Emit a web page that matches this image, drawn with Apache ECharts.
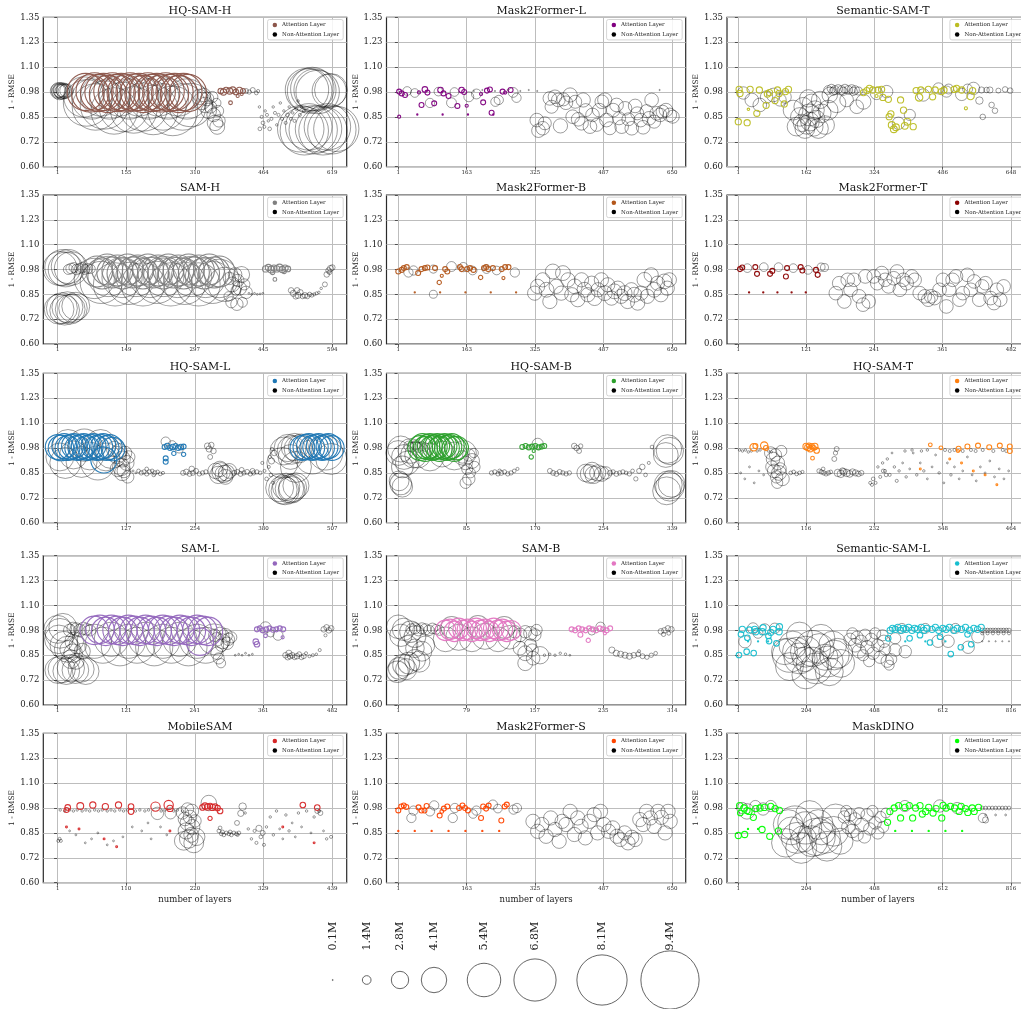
<!DOCTYPE html>
<html>
<head>
<meta charset="utf-8">
<script src="https://cdn.jsdelivr.net/npm/echarts@6/dist/echarts.min.js"></script>
<style>
html,body{margin:0;padding:0;background:#fff;}
#chart{width:1021px;height:1009px;}
</style>
</head>
<body>
<div id="chart"></div>
<script>
// Each point: [layer index, 1 - RMSE, parameters in millions]
const yTickValues = [0.6, 0.725, 0.85, 0.975, 1.1, 1.225, 1.35];
const yTickLabels = ['0.60', '0.72', '0.85', '0.98', '1.10', '1.23', '1.35'];

// ---------- HQ-SAM-H ----------
const hqSamHTicks = [1, 155, 310, 464, 619];
const hqSamHAtt = [[64,.975,6],[74,.968,6],[84,.978,6],[94,.97,6],[104,.975,6],[114,.965,6],[124,.978,6],[134,.97,6],[144,.975,6],[154,.968,6],[164,.978,6],[174,.972,6],[184,.975,6],[194,.965,6],[204,.978,6],[214,.97,6],[224,.975,6],[234,.968,6],[244,.978,6],[254,.97,6],[264,.975,6],[274,.965,6],[284,.975,6],[294,.97,6],
 [368,.98,0.9],[374,.975,1],[380,.985,0.9],[388,.98,1],[395,.985,1],[402,.975,0.9],[410,.983,1],[418,.98,0.8],[390,.921,0.6],[406,.955,0.5],[415,.965,0.5]];
const hqSamHNon = [[1,.98,2.4],[3,.985,2.4],[5,.975,2.5],[7,.985,2.4],[9,.98,2.5],[11,.975,2.4],[13,.985,2.3],[15,.98,2.4],[18,.978,2.3],[21,.982,2.2],
 [60,.95,6.5],[66,.92,7.5],[78,.94,6.5],[86,.9,7.5],[98,.955,6.5],[106,.91,7.8],[118,.94,6.5],[128,.88,7.5],[140,.955,6.5],[150,.9,8],[162,.94,6.5],[172,.885,7.5],[184,.955,6.5],[194,.9,7.8],[206,.94,6.5],[216,.885,8],[228,.955,6.5],[238,.9,7.5],[250,.94,6.5],[260,.88,8],[272,.955,6.5],[282,.9,7.5],[292,.94,6.5],[300,.91,7],
 [320,.95,2.5],[325,.93,2.8],[330,.96,2.2],[333,.91,2.5],[337,.94,2.2],[341,.88,2.5],[345,.9,2],[349,.95,1.8],[352,.86,2.2],[355,.82,2.5],[360,.8,2.4],[364,.83,2],[358,.92,1.5],[362,.88,1.8],
 [425,.98,0.8],[432,.975,0.7],[440,.985,0.8],[448,.97,0.6],[452,.98,0.5],
 [455,.9,0.4],[460,.85,0.5],[463,.82,0.6],[466,.8,0.5],[468,.88,0.4],[472,.86,0.5],[475,.83,0.4],[478,.79,0.6],[482,.84,0.5],[486,.9,0.4],[490,.87,0.5],[494,.81,0.4],[498,.86,0.5],[502,.92,0.4],[506,.84,0.5],[510,.88,0.4],[514,.82,0.5],[518,.86,0.6],[522,.9,0.4],[526,.84,0.5],[530,.87,0.4],[534,.83,0.5],[538,.89,0.5],[542,.93,0.4],[546,.86,0.5],[550,.9,0.4],[555,.88,0.5],[456,.79,0.6],
 [562,.985,7],[568,.98,7.2],[574,.99,7],[580,.985,6.8],[586,.975,7],[612,.98,5.5],[616,.985,5.3],
 [548,.79,7.5],[556,.78,7.8],[566,.8,7.5],[576,.785,7.8],[588,.79,7.5],[598,.78,7.8],[608,.8,7.5],[618,.785,7.8],[628,.79,7.3]];

// ---------- Mask2Former-L ----------
const m2fLTicks = [1, 163, 325, 487, 650];
const m2fLAtt = [[3,.851,0.5],[3,.977,0.8],[9,.968,0.8],[17,.96,0.8],[50,.973,0.5],[56,.91,0.8],[64,.988,0.9],[70,.972,0.8],[86,.918,0.8],[101,.985,0.9],[108,.968,0.8],[120,.955,0.8],[141,.905,0.8],[151,.985,0.9],[157,.975,0.8],[163,.906,0.5],[197,.965,0.5],[202,.923,0.8],[211,.982,0.8],[218,.988,0.8],[222,.871,0.8],[248,.977,0.8],[254,.972,0.5],[267,.985,0.8],
 [46,.862,0.2],[106,.862,0.2],[166,.862,0.2],[226,.862,0.2]];
const m2fLNon = [[22,.98,1.4],[40,.97,1.4],[76,.92,1.5],[96,.977,1.4],[127,.921,1.6],[134,.975,1.4],[168,.951,1.6],[186,.965,1.6],[231,.926,1.5],[239,.935,1.5],[273,.973,1.6],[281,.946,1.5],
 [180,.98,0.2],[200,.985,0.2],[230,.98,0.2],[260,.985,0.2],[290,.98,0.2],[310,.985,0.2],[330,.98,0.2],[620,.985,0.2],
 [329,.834,2.2],[333,.781,2.2],[343,.793,2.2],[348,.818,2.1],[360,.943,2.2],[364,.901,2.1],[372,.951,2.2],[380,.935,2.2],[385,.805,2.3],[392,.938,2.1],[398,.921,2.2],[408,.96,2.3],[414,.851,2.2],[420,.926,2.1],[427,.838,2.2],[435,.818,2.2],[439,.935,2.3],[445,.884,2.1],[455,.801,2.2],[461,.86,2.2],[471,.81,2.1],[477,.884,2.2],[483,.926,2.2],[490,.935,2.3],[494,.834,2.2],[502,.793,2.1],[510,.884,2.2],[518,.91,2.2],[524,.843,2.1],[530,.801,2.2],[538,.893,2.2],[546,.838,2.1],[554,.793,2.2],[562,.905,2.2],[567,.868,2.1],[575,.834,2.2],[581,.798,2.2],[589,.879,2.1],[595,.843,2.2],[601,.935,2.2],[607,.826,2.1],[613,.868,2.2],[621,.86,2.2],[627,.876,2.1],[635,.884,2.2],[644,.86,2.2],[651,.851,2.1]];

// ---------- Semantic-SAM-T ----------
const semSamTTicks = [1, 162, 324, 486, 648];
const semSamTAtt = [[3,.988,1],[5,.968,1],[1,.826,1],[22,.821,1],[25,.888,0.4],[29,.988,1],[45,.868,1],[51,.985,1],[67,.908,1],[70,.965,1],[75,.972,1],[88,.932,1],[94,.985,1],[98,.968,1],[110,.915,1],[113,.977,1],[120,.988,1],
 [298,.972,1],[306,.982,1],[312,.993,1],[320,.985,1],[329,.955,0.5],[333,.985,1],[341,.988,1],[344,.948,1],[357,.938,1],[359,.851,1],[363,.865,1],[365,.809,1.1],[370,.788,1.1],[375,.798,1.1],[386,.935,1],[393,.884,1],[396,.805,1.1],[402,.826,1.1],[416,.801,1],[423,.982,1],[430,.948,1.2],[434,.985,1],[452,.988,1],[462,.951,1],[468,.985,1],[483,.977,1],[489,.985,1],[513,.988,1],[519,.993,1],[531,.985,1],[541,.893,0.5],[552,.955,1.2],[557,.982,1]];
const semSamTNon = [[13,.97,2],[33,.935,2.2],[52,.91,2.2],[68,.95,2],[84,.96,2.2],[100,.935,2],[112,.95,2],
 [147,.85,3],[159,.792,3.2],[171,.826,3],[183,.884,3],[191,.792,3.2],[199,.868,3],[155,.901,3],[175,.918,3],[207,.809,3],[167,.943,2.8],[139,.801,3],[131,.884,3.2],[195,.935,2.8],[214,.884,3.2],[234,.918,3],[218,.96,2.5],[152,.82,2.8],[163,.81,3],[180,.8,3],[186,.84,2.8],[170,.86,3.5],
 [214,.985,1.4],[222,.992,1.4],[230,.985,1.4],[238,.99,1.4],[246,.985,1.4],[254,.992,1.4],[262,.985,1.4],[270,.99,1.4],[278,.985,1.4],[286,.98,1.3],[226,.978,1.3],[250,.978,1.3],[274,.978,1.3],
 [258,.935,2.2],[282,.901,2.2],[298,.926,2.4],[329,.968,2],[353,.977,2],[408,.86,1.8],[381,.818,2],
 [440,.96,2],[476,.993,1.8],[495,.977,1.8],[531,.963,2],[559,.993,2],[573,.932,1.2],[581,.85,0.9],[602,.91,0.9],[610,.881,0.9],[578,.985,1],[590,.985,0.9],[598,.985,1],[618,.982,0.8],[634,.988,0.9],[646,.982,0.9],[500,.99,1.6],[545,.99,1.6]];

// ---------- SAM-H ----------
const samHTicks = [1, 149, 297, 445, 594];
const samHAtt = [[86,.965,5],[97,.955,5],[108,.975,5],[119,.96,5],[130,.97,5],[141,.955,5],[152,.975,5],[163,.96,5],[174,.97,5],[185,.955,5],[196,.975,5],[207,.96,5],[218,.97,5],[229,.955,5],[240,.975,5],[251,.96,5],[262,.97,5],[273,.955,5],[284,.975,5],[295,.96,5],[306,.97,5],[317,.955,5],[328,.975,5],[339,.96,5],[350,.965,5],
 [450,.978,1],[456,.985,1],[462,.975,1.1],[468,.982,1],[474,.978,1],[480,.985,1.1],[486,.975,1],[492,.982,1],[498,.978,0.9],[465,.96,0.7],[470,.925,0.6],[490,.965,0.7]];
const samHNon = [[6,.98,5.5],[12,.985,5.8],[18,.975,5.6],[24,.99,5.5],[30,.98,5.4],
 [4,.775,4.8],[10,.78,5],[16,.77,4.8],[22,.785,5],[28,.775,4.8],[34,.78,4.6],[40,.79,4.5],
 [24,.975,1.6],[30,.98,1.7],[36,.985,1.6],[42,.975,1.7],[48,.98,1.6],[54,.985,1.7],[60,.975,1.6],[66,.98,1.6],[72,.978,1.5],
 [80,.93,6.5],[95,.91,6.8],[110,.94,6.5],[125,.9,7],[140,.935,6.5],[155,.905,6.8],[170,.94,6.5],[185,.9,7],[200,.935,6.5],[215,.91,6.8],[230,.94,6.5],[245,.9,7],[260,.935,6.5],[275,.905,6.8],[290,.94,6.5],[305,.9,7],[320,.935,6.5],[335,.91,6.8],[350,.93,6.2],[362,.9,5.5],
 [372,.93,2],[378,.9,2.4],[384,.95,2.2],[390,.92,2],[394,.88,2.2],[398,.95,2.6],[404,.9,1.8],[408,.86,2],[386,.87,1.6],
 [376,.81,1.8],[388,.8,2],[400,.81,1.6],[370,.84,1.5],
 [414,.855,0.3],[420,.85,0.3],[426,.855,0.3],[432,.85,0.3],[438,.852,0.3],[444,.855,0.3],
 [505,.87,0.9],[510,.855,1],[515,.84,0.9],[520,.845,1],[525,.86,0.9],[530,.84,0.8],[535,.845,0.9],[540,.84,0.8],[545,.85,0.7],[550,.845,0.6],[555,.85,0.5],[560,.855,0.5],[565,.86,0.4],[570,.88,0.4],[518,.87,0.9],
 [578,.9,0.8],[582,.95,0.9],[586,.97,0.9],[590,.98,1],[594,.985,0.9],[588,.96,0.7]];

// ---------- Mask2Former-B ----------
const m2fBTicks = [1, 163, 325, 487, 650];
const m2fBAtt = [[1,.965,0.8],[9,.973,0.8],[14,.982,0.8],[21,.987,0.8],[48,.957,0.8],[56,.977,0.8],[64,.982,0.8],[70,.985,0.8],[88,.982,0.8],[98,.91,0.7],[104,.943,0.5],[112,.977,0.8],[117,.965,0.8],[147,.987,0.8],[151,.977,0.8],[164,.977,0.8],[171,.982,0.8],[179,.973,0.8],[196,.935,0.7],[204,.982,0.8],[209,.987,0.8],[214,.977,0.8],[225,.982,0.8],[246,.977,0.8],[250,.932,0.5],[254,.987,0.8],[262,.987,0.8],
 [40,.86,0.2],[100,.86,0.2],[160,.86,0.2],[220,.86,0.2],[280,.86,0.2]];
const m2fBNon = [[25,.96,1.5],[37,.97,1.5],[84,.85,1.3],[84,.977,1.3],[127,.99,1.6],[155,.987,1.5],[177,.97,1.4],[210,.977,1.4],[234,.97,1.4],[277,.96,1.5],
 [324,.856,2.3],[331,.89,2.3],[343,.923,2.3],[352,.873,2.4],[360,.814,2.3],[367,.965,2.4],[375,.89,2.3],[387,.856,2.3],[391,.957,2.4],[403,.923,2.3],[412,.848,2.3],[419,.89,2.4],[426,.823,2.3],[435,.923,2.3],[442,.873,2.4],[450,.848,2.3],[459,.906,2.3],[466,.831,2.4],[474,.873,2.3],[482,.923,2.3],[490,.856,2.4],[497,.898,2.3],[506,.831,2.3],[513,.865,2.4],[521,.881,2.3],[529,.84,2.3],[537,.856,2.4],[544,.814,2.3],[553,.873,2.3],[560,.848,2.4],[568,.806,2.3],[576,.856,2.3],[584,.923,2.4],[591,.84,2.3],[600,.948,2.3],[607,.873,2.4],[615,.906,2.3],[623,.848,2.3],[631,.915,2.4],[638,.881,2.3],[643,.923,2.3]];

// ---------- Mask2Former-T ----------
const m2fTTicks = [1, 121, 241, 361, 482];
const m2fTAtt = [[4,.977,0.8],[8,.985,0.8],[31,.987,0.8],[34,.953,0.8],[57,.953,0.8],[61,.968,0.8],[85,.94,0.8],[87,.982,0.8],[111,.987,0.8],[114,.97,0.8],[138,.973,0.8],[141,.948,0.8],
 [20,.86,0.2],[45,.86,0.2],[70,.86,0.2],[95,.86,0.2],[120,.86,0.2]];
const m2fTNon = [[17,.982,1.4],[46,.987,1.4],[72,.987,1.4],[98,.982,1.4],[124,.973,1.4],[147,.987,1.3],[153,.985,1.3],
 [173,.856,2.2],[179,.906,2.2],[188,.814,2.2],[194,.923,2.2],[199,.873,2.2],[205,.923,2.2],[214,.84,2.2],[221,.798,2.2],[225,.94,2.2],[231,.814,2.2],[240,.94,2.2],[246,.906,2.2],[254,.957,2.2],[260,.923,2.2],[266,.89,2.2],[275,.931,2.2],[281,.965,2.2],[286,.873,2.2],[292,.923,2.2],[298,.906,2.2],[307,.94,2.2],[312,.923,2.2],[321,.856,2.2],[330,.84,2.2],[336,.823,2.2],[341,.84,2.2],[347,.831,2.2],[356,.873,2.2],[362,.923,2.2],[368,.789,2.2],[373,.873,2.2],[379,.923,2.2],[385,.94,2.2],[391,.823,2.2],[397,.856,2.2],[405,.948,2.2],[411,.873,2.2],[417,.915,2.2],[426,.823,2.2],[431,.89,2.2],[437,.906,2.2],[446,.831,2.2],[452,.806,2.2],[457,.873,2.2],[463,.823,2.2],[469,.89,2.2]];

// ---------- HQ-SAM-L ----------
const hqSamLTicks = [1, 127, 254, 380, 507];
const hqSamLAtt = [[1,.98,4],[7,.975,4.1],[13,.985,4],[19,.975,4],[25,.98,4.1],[31,.985,4],[37,.975,4],[43,.98,4.1],[49,.985,4],[55,.975,4],[61,.98,4.1],[67,.985,4],[73,.975,4],[79,.98,4.1],[85,.985,4],[91,.975,4],[97,.98,4],[103,.97,3.8],[86,.915,4.2],
 [198,.98,0.8],[203,.985,0.9],[208,.975,0.8],[213,.98,0.9],[218,.985,0.8],[223,.975,0.8],[228,.98,0.9],[233,.982,0.8],[200,.923,0.8],[200,.906,0.8],[215,.948,0.7],[233,.943,0.7],
 [452,.975,4],[458,.98,4.1],[464,.985,4],[470,.975,4],[476,.98,4.1],[482,.985,4],[488,.975,4],[494,.98,4.1],[500,.985,4],[506,.975,4]];
const hqSamLNon = [[5,.93,4.5],[15,.9,5],[30,.94,4.5],[45,.905,5],[60,.935,4.5],[75,.9,5.5],[90,.93,4.5],[100,.95,5],[20,.99,5],[50,.99,5.2],[80,.99,5],
 [105,.97,2.5],[110,.94,2.8],[115,.96,2.4],[120,.92,2.6],[125,.95,2.2],[128,.9,2.4],[132,.93,2],[118,.88,2.8],[123,.86,2.2],[120,.85,2.5],[130,.83,2],[112,.87,2.5],
 [150,.86,0.6],[155,.85,0.7],[160,.855,0.7],[165,.845,0.7],[170,.855,0.7],[175,.86,0.6],[180,.85,0.7],[185,.855,0.6],[190,.845,0.6],[195,.85,0.5],[165,.87,0.6],[178,.84,0.6],[140,.86,0.3],[145,.85,0.3],
 [200,1.007,1.5],[212,.99,1.4],[225,.97,1.3],
 [232,.85,0.8],[238,.855,0.9],[244,.845,0.8],[250,.85,0.8],[256,.86,0.8],[262,.845,0.7],[268,.85,0.7],[274,.855,0.7],[248,.87,0.9],
 [277,.985,1],[280,.97,1],[284,.99,0.9],[288,.96,0.9],[282,.93,0.8],
 [292,.86,2.5],[297,.84,2.8],[302,.855,3],[307,.845,2.8],[312,.85,2.6],[317,.86,2.4],[300,.87,2.5],[310,.83,2.4],
 [326,.85,0.8],[332,.855,0.8],[338,.845,0.8],[344,.85,0.7],[350,.855,0.8],[356,.845,0.7],[362,.85,0.7],[368,.855,0.7],[374,.85,0.6],[340,.865,0.8],[360,.86,0.8],
 [378,.9,0.5],[382,.86,0.5],[386,.82,0.6],[390,.88,0.5],[394,.84,0.6],[398,.8,0.5],[392,.93,0.5],[396,.97,0.5],[395,.91,1],[400,.95,0.9],
 [410,.775,4.5],[416,.765,4.6],[422,.78,4.4],[428,.77,4.6],[434,.775,4.5],[440,.785,4.2],[420,.76,4.5],[432,.765,4.3],
 [418,.96,4.5],[425,.975,4.4],[432,.965,4.6],[438,.98,4.4],[444,.97,4.5],[450,.98,4.2],[430,.93,4],
 [415,.9,5],[440,.88,5],[470,.93,5.5],[495,.95,5.5],[505,.92,5]];

// ---------- HQ-SAM-B ----------
const hqSamBTicks = [1, 85, 170, 254, 339];
const hqSamBAtt = [[28,.975,4],[31,.985,4],[34,.97,4],[37,.98,4],[40,.985,4],[43,.975,4],[46,.98,4],[49,.985,4],[52,.97,4],[55,.98,4],[58,.985,4],[61,.975,4],[64,.98,4],[67,.985,4],[70,.97,4],[73,.975,3.8],
 [154,.98,0.8],[158,.985,0.8],[162,.978,0.8],[166,.982,0.8],[170,.985,0.8],[174,.978,0.8],[178,.982,0.8],[181,.985,0.8],[165,.93,0.7],[168,.96,0.5]];
const hqSamBNon = [[1,.95,4],[4,.97,4.2],[8,.93,4],[12,.9,3.8],[16,.96,4],[20,.94,4.2],[6,.88,3.5],
 [4,.795,3.5],[6,.78,3.3],[2,.81,3.2],
 [14,.985,1.6],[18,.98,1.6],[22,.988,1.5],[26,.978,1.6],[30,.985,1.5],[34,.98,1.4],
 [25,.94,4.2],[40,.93,4.5],[55,.945,4.2],[70,.935,4.5],[82,.95,4],
 [80,.93,2],[84,.9,2.2],[88,.94,2],[92,.91,2.4],[86,.87,1.8],[90,.85,1.6],[95,.88,1.8],[88,.82,2],[84,.8,1.8],[94,.95,1.5],
 [116,.85,0.7],[120,.855,0.7],[124,.845,0.7],[128,.85,0.8],[132,.855,0.7],[136,.845,0.7],[140,.85,0.7],[144,.86,0.6],[148,.87,0.5],[126,.86,0.6],
 [173,.996,1.8],
 [188,.86,0.8],[192,.85,0.8],[196,.845,0.8],[200,.855,0.8],[204,.85,0.7],[208,.845,0.7],[212,.85,0.7],
 [218,.985,0.9],[221,.975,0.9],[224,.96,0.8],[226,.985,0.7],
 [232,.85,2.8],[237,.845,3],[242,.84,2.8],[247,.85,2.6],[252,.845,2.4],[257,.85,2],[240,.86,2.8],
 [262,.85,0.8],[266,.855,0.7],[270,.845,0.8],[274,.85,0.7],[278,.855,0.7],[282,.85,0.6],[286,.845,0.7],[290,.86,0.6],
 [294,.82,0.7],[298,.86,0.8],[302,.88,0.9],[306,.84,0.6],[310,.9,0.5],[314,.98,0.6],
 [333,.97,4.6],[336,.96,4.4],[331,.94,4],[334,.79,4.5],[336,.78,4.6],[332,.76,4.5],[338,.795,4.3]];

// ---------- HQ-SAM-T ----------
const hqSamTTicks = [1, 116, 232, 348, 464];
const hqSamTAtt = [[27,.979,1.2],[45,.987,1.2],[30,.985,0.8],[48,.975,0.8],[116,.983,1],[119,.978,1],[123,.971,1],[127,.924,0.6],[131,.983,1],[134,.963,0.9],[121,.988,0.8],[126,.985,0.8],[129,.975,0.8],
 [327,.991,0.6],[345,.976,0.6],[375,.971,0.8],[390,.983,0.8],[408,.987,0.8],[427,.979,0.8],[445,.987,0.8],[462,.983,0.8],[462,.96,0.8],[374,.96,0.5],
 [310,.87,0.3],[360,.92,0.3],[400,.86,0.3],[420,.84,0.3],[440,.79,0.3],[380,.9,0.3]];
const hqSamTNon = [[3,.965,0.4],[8,.96,0.4],[13,.965,0.4],[18,.955,0.4],[23,.96,0.4],[33,.96,0.4],[38,.965,0.4],[52,.96,0.4],[57,.955,0.4],
 [56,.95,2],[60,.92,2.2],[64,.94,2],[68,.9,2.2],[72,.87,2],[62,.86,2.2],[66,.83,2],[70,.85,2.4],[74,.96,1.8],[58,.88,2],[76,.82,2.2],[67,.8,1.8],
 [90,.85,0.6],[95,.855,0.6],[100,.845,0.6],[105,.85,0.6],[110,.855,0.5],
 [5,.85,0.3],[12,.82,0.3],[20,.88,0.3],[28,.8,0.3],[36,.86,0.3],[44,.84,0.3],
 [138,.86,0.7],[142,.855,0.7],[146,.85,0.7],[150,.845,0.7],[154,.85,0.7],[158,.855,0.6],[145,.87,0.6],
 [170,.85,1.2],[175,.845,1.2],[180,.855,1.1],[185,.85,1.2],[190,.845,1.1],[195,.855,1],[200,.85,1],[205,.845,0.9],[210,.85,0.8],[178,.86,1],
 [164,.92,0.8],[166,.95,0.7],[168,.97,0.8],
 [225,.8,0.5],[228,.79,0.5],[230,.82,0.6],[234,.8,0.5],[238,.88,0.4],[242,.83,0.5],[246,.9,0.4],[250,.86,0.5],[254,.92,0.4],[258,.84,0.5],[262,.95,0.3],[266,.88,0.4],[270,.81,0.5],[274,.86,0.4],[280,.9,0.3],[286,.83,0.4],[292,.87,0.3],[298,.95,0.3],[304,.84,0.4],[310,.9,0.3],[316,.86,0.4],[322,.82,0.3],[330,.88,0.3],[336,.94,0.3],[342,.85,0.4],[350,.8,0.3],[356,.9,0.3],[362,.84,0.4],[368,.88,0.3],[376,.82,0.3],[382,.86,0.3],[390,.93,0.3],[398,.84,0.3],[405,.81,0.3],[412,.88,0.3],[420,.85,0.3],[428,.91,0.3],[436,.83,0.3],[444,.87,0.3],[452,.82,0.3],[460,.86,0.3],[247,.86,0.6],[252,.84,0.6],
 [352,.965,0.5],[360,.96,0.5],[368,.965,0.5],[382,.96,0.5],[396,.965,0.5],[404,.96,0.5],[416,.965,0.5],[434,.96,0.5],[450,.965,0.5],[456,.96,0.5],
 [284,.96,0.4],[296,.965,0.4],[312,.96,0.4],[322,.965,0.4]];

// ---------- SAM-L ----------
const samLTicks = [1, 121, 241, 361, 482];
const samLAtt = [[65,.975,4.6],[75,.98,4.6],[85,.97,4.6],[95,.98,4.6],[105,.975,4.6],[115,.97,4.6],[125,.98,4.6],[135,.975,4.6],[145,.97,4.6],[155,.98,4.6],[165,.975,4.6],[175,.97,4.6],[185,.98,4.6],[195,.975,4.6],[205,.97,4.6],[215,.98,4.6],[225,.975,4.6],[235,.97,4.6],[245,.98,4.6],[255,.975,4.6],[265,.97,4.6],[250,.918,4.4],
 [350,.98,0.8],[355,.985,0.8],[360,.975,0.8],[366,.98,0.8],[372,.985,0.8],[378,.978,0.8],[384,.98,0.8],[390,.985,0.8],[396,.98,0.8],[348,.918,0.9],[350,.905,0.9],[365,.948,0.6],[395,.94,0.5]];
const samLNon = [[1,.98,4.5],[5,.96,4.8],[10,.99,4.5],[3,.93,4.6],[12,.9,4.5],[18,.88,4.2],
 [2,.775,4.3],[8,.78,4.4],[16,.77,4.3],[24,.785,4.4],[32,.775,4.3],[42,.78,4.2],[50,.77,4.3],
 [20,.88,2.8],[28,.86,3],[36,.9,2.8],[44,.87,2.6],[24,.83,3],[33,.82,2.6],
 [22,.975,2],[28,.985,2],[34,.98,2.1],[40,.975,2],[46,.985,2],[52,.98,1.9],[58,.975,1.8],[30,.92,3],
 [65,.92,5.5],[80,.9,5.8],[95,.93,5.5],[110,.89,6],[125,.92,5.5],[140,.9,5.8],[155,.93,5.5],[170,.89,6],[185,.92,5.5],[200,.9,5.8],[215,.93,5.5],[230,.89,6],[245,.92,5.5],[260,.9,5.8],[275,.93,5],
 [276,.95,2],[280,.93,2.2],[285,.96,2],[290,.92,2.4],[295,.95,2.2],[300,.93,2],[305,.94,1.8],[288,.9,2],[298,.91,2],
 [283,.834,1.8],[287,.81,1.5],[280,.86,2],
 [312,.85,0.3],[318,.855,0.3],[324,.85,0.3],[330,.86,0.3],[336,.85,0.3],[342,.855,0.3],
 [365,.99,1.8],[387,.95,1.6],[374,.96,1.2],
 [400,.85,0.9],[404,.84,0.9],[408,.845,0.9],[412,.85,0.9],[416,.84,0.8],[420,.845,0.9],[424,.855,0.8],[428,.84,0.8],[432,.845,0.8],[436,.86,0.5],[442,.845,0.5],[448,.85,0.5],[454,.855,0.4],[460,.876,0.5],[406,.86,1],
 [467,.98,0.9],[472,.99,0.9],[476,.975,0.9],[480,.985,0.9],[470,.95,0.5]];

// ---------- SAM-B ----------
const samBTicks = [1, 79, 157, 235, 314];
const samBAtt = [[55,.975,3.3],[60,.98,3.3],[65,.97,3.3],[70,.985,3.3],[75,.975,3.3],[80,.98,3.3],[85,.97,3.3],[90,.985,3.3],[95,.975,3.3],[100,.98,3.3],[105,.97,3.3],[110,.985,3.3],[115,.975,3.3],[120,.98,3.3],[125,.97,3.3],[130,.975,3.2],
 [199,.98,0.8],[203,.975,0.8],[207,.985,0.8],[211,.98,0.8],[215,.975,0.8],[219,.985,0.8],[223,.98,0.8],[227,.975,0.8],[231,.985,0.8],[235,.98,0.8],[239,.975,0.8],[243,.985,0.8],[209,.953,0.8],[218,.925,0.7],[237,.96,0.5]];
const samBNon = [[1,.993,3.8],[7,.98,3.6],[15,.968,3.5],[20,.943,3.5],[4,.95,3.6],
 [0,.767,3.5],[2,.784,3.5],[7,.8,3.5],[13,.81,3.5],[20,.826,3.4],[25,.818,3.4],[10,.78,3.4],
 [20,.885,3],[28,.87,3.2],[12,.9,3.2],[32,.9,3],
 [16,.98,1.8],[20,.985,1.8],[24,.975,1.8],[28,.985,1.8],[32,.98,1.8],[36,.975,1.7],[40,.985,1.7],[44,.98,1.6],[48,.975,1.6],
 [55,.93,4],[70,.94,4.2],[85,.93,4],[100,.945,4.2],[115,.93,4],[128,.94,3.8],[62,.99,3.5],[92,.995,3.5],[122,.99,3.5],
 [134,.968,2],[140,.952,2.2],[146,.968,2],[152,.96,2.2],[157,.952,2],[159,.977,1.8],[140,.885,2.2],[146,.86,2.4],[152,.901,2],[155,.835,2.2],[146,.81,2.4],[163,.85,2.8],[154,.876,2],
 [168,.85,0.4],[174,.855,0.4],[180,.85,0.4],[186,.86,0.4],[192,.855,0.4],[197,.85,0.3],
 [232,.993,1.5],[222,.97,1.2],
 [245,.876,1],[250,.86,1],[255,.855,1],[260,.85,1],[265,.845,1],[270,.85,0.9],[275,.855,0.8],[280,.845,0.8],[285,.84,0.7],[290,.85,0.7],[295,.86,0.6],[276,.87,0.5],
 [301,.97,0.9],[305,.975,0.9],[309,.985,0.9],[313,.98,0.9],[304,.955,0.7],[310,.96,0.6]];

// ---------- Semantic-SAM-L ----------
const semSamLTicks = [1, 204, 408, 612, 816];
const semSamLAtt = [[3,.851,0.9],[9,.955,0.9],[13,.98,1],[28,.938,0.9],[34,.977,1],[26,.868,0.9],[50,.98,1],[47,.861,0.9],[53,.968,1],[73,.968,1],[75,.988,1],[91,.947,0.9],[93,.921,0.9],[98,.965,1],[105,.98,1],[115,.91,0.9],[123,.968,1],[124,.993,1],
 [449,.935,0.9],[455,.975,1],[462,.985,1],[470,.98,1],[478,.99,1],[486,.975,1],[494,.985,1],[502,.98,1],[510,.99,1],[513,.935,0.9],[520,.975,1],[528,.985,1],[536,.98,1],[544,.951,0.9],[548,.99,1],[556,.975,1],[564,.985,1],[574,.914,0.9],[580,.98,1],[590,.99,1],[600,.975,1],[604,.943,0.9],[612,.985,1],[622,.98,1],[632,.99,1],[636,.856,0.9],[645,.975,1],[655,.985,1],[666,.89,0.9],[668,.98,1],[680,.99,1],[686,.955,0.9],[692,.975,1],[697,.905,0.9],[705,.985,1],[716,.98,1],[727,.99,1],
 [30,.92,0.2],[60,.92,0.2],[90,.92,0.2],[500,.92,0.2],[560,.92,0.2],[620,.92,0.2]];
const semSamLNon = [[21,.918,2],[45,.985,1.8],[80,.98,1.8],[110,.985,1.7],[60,.96,1.6],
 [164,.901,4.5],[184,.834,5],[203,.868,5],[223,.809,5.2],[243,.884,4.8],[268,.818,5],[288,.851,4.8],[307,.809,4.5],[154,.793,4.5],[233,.784,5],[184,.951,4.2],[248,.935,4.5],[283,.901,4.5],[139,.868,4.2],[203,.751,4.5],[273,.767,4.5],[154,.85,5.5],[223,.884,5.8],[298,.86,4.8],[200,.83,4],[260,.84,4.2],[175,.87,4.5],
 [335,.93,2],[342,.96,1.8],[350,.9,2.2],[356,.94,2],[362,.87,2.2],[368,.92,2],[374,.85,1.8],[380,.95,2],[386,.89,2.2],[392,.82,1.8],[398,.93,2],[404,.86,2],[410,.96,1.8],[418,.9,2],[425,.84,2],[432,.95,1.8],[440,.88,1.8],[446,.82,2],[452,.8,1.6],[458,.83,1.8],[436,.92,2],
 [470,.876,2],[500,.868,2],[470,.935,1.8],[598,.92,2],[628,.92,2],[688,.89,2],[717,.943,2],[490,.985,1.6],[560,.985,1.6],[650,.985,1.6],
 [730,.975,0.7],[738,.975,0.7],[746,.975,0.7],[754,.975,0.7],[762,.975,0.7],[770,.975,0.7],[778,.975,0.7],[786,.975,0.7],[794,.975,0.7],[802,.975,0.7],[810,.975,0.7],[730,.96,0.5],[746,.96,0.5],[762,.96,0.5],[778,.96,0.5],[794,.96,0.5],[810,.96,0.5],[730,.92,0.2],[750,.92,0.2],[770,.92,0.2],[790,.92,0.2],[810,.92,0.2]];

// ---------- MobileSAM ----------
const mobileSamTicks = [1, 110, 220, 329, 439];
const mobileSamAtt = [[17,.978,0.9],[15,.965,0.8],[37,.985,1.1],[57,.99,1],[77,.982,1],[98,.99,1],[118,.982,0.9],[118,.957,0.9],[157,.982,1.5],[178,.99,1.5],[180,.973,1],
 [232,.978,0.9],[236,.985,1],[240,.98,1],[244,.985,0.9],[248,.978,1],[252,.982,0.9],[256,.975,0.9],[260,.96,0.9],[244,.923,0.7],[392,.99,0.9],[415,.977,0.9],
 [15,.88,0.3],[35,.87,0.3],[75,.82,0.3],[95,.78,0.3],[180,.86,0.3],[360,.88,0.3],[410,.8,0.3]];
const mobileSamNon = [[5,.965,0.4],[12,.96,0.4],[20,.965,0.4],[26,.96,0.4],[32,.965,0.4],[40,.96,0.4],[46,.965,0.4],[52,.96,0.4],[60,.965,0.4],[66,.96,0.4],[72,.965,0.4],[80,.96,0.4],[86,.965,0.4],[92,.96,0.4],[100,.965,0.4],[106,.96,0.4],[112,.965,0.4],[125,.96,0.4],[132,.965,0.4],[140,.96,0.4],[146,.965,0.4],[166,.96,0.4],[172,.965,0.4],[186,.96,0.4],[192,.965,0.4],[200,.96,0.4],
 [2,.81,0.5],[4,.82,0.5],[6,.81,0.5],[20,.86,0.3],[30,.84,0.3],[45,.8,0.3],[55,.82,0.3],[65,.85,0.3],[80,.79,0.3],[90,.81,0.3],[105,.83,0.3],[120,.88,0.3],[135,.86,0.3],[145,.9,0.3],[150,.82,0.3],[165,.88,0.3],[175,.84,0.3],
 [160,.948,2],[181,.948,1.8],[242,1.0,2.5],
 [200,.95,2],[204,.92,2.2],[208,.9,2.4],[212,.93,2.2],[216,.88,2.4],[220,.91,2],[206,.86,2.6],[214,.84,2.4],[210,.82,3],[218,.8,3.2],[202,.81,3],[222,.83,2.8],[208,.97,2],[215,.96,2.2],
 [258,.86,0.6],[262,.845,0.6],[266,.84,0.6],[270,.85,0.6],[274,.845,0.6],[278,.84,0.6],[282,.85,0.6],[286,.845,0.6],[290,.85,0.6],[264,.855,0.6],[276,.855,0.6],[288,.84,0.5],[260,.875,0.6],
 [296,.982,1.2],[293,.948,1],[287,.9,0.8],
 [300,.95,0.4],[305,.87,0.4],[310,.82,0.4],[315,.86,0.5],[318,.8,0.5],[322,.873,1],[325,.83,0.6],[328,.85,0.8],[330,.79,0.5],[334,.88,0.4],[340,.93,0.4],[345,.84,0.4],[350,.96,0.4],[355,.87,0.3],[360,.82,0.3],[365,.94,0.4],[370,.86,0.4],[375,.9,0.3],[380,.83,0.3],[385,.95,0.4],[390,.88,0.3],[398,.96,0.4],[405,.85,0.3],[410,.93,0.4],[418,.96,0.5],[425,.86,0.3],[430,.82,0.4],[437,.83,0.5],[420,.95,0.8],[415,.96,0.8]];

// ---------- Mask2Former-S ----------
const m2fSTicks = [1, 163, 325, 487, 650];
const m2fSAtt = [[1,.963,0.8],[8,.983,0.8],[14,.988,0.8],[20,.98,0.8],[49,.978,0.8],[56,.962,0.8],[63,.962,0.8],[68,.985,0.8],[99,.937,0.8],[104,.958,0.6],[109,.972,0.8],[117,.983,0.8],[145,.975,0.8],[153,.988,0.8],[159,.975,0.8],[166,.963,0.8],[197,.925,0.8],[202,.983,0.8],[209,.972,0.8],[215,.987,0.8],[245,.912,0.8],[253,.983,0.8],[258,.992,0.8],
 [1,.86,0.2],[40,.86,0.2],[80,.86,0.2],[120,.86,0.2],[160,.86,0.2],[200,.86,0.2],[240,.86,0.2]];
const m2fSNon = [[32,.925,1.5],[37,.962,1.5],[76,.958,1.5],[86,.988,1.5],[130,.925,1.5],[135,.975,1.5],[178,.945,1.4],[186,.962,1.5],[225,.992,1.5],[237,.972,1.4],[274,.967,1.5],[282,.975,1.5],
 [320,.908,2.3],[331,.858,2.3],[341,.892,2.3],[351,.833,2.3],[362,.925,2.3],[372,.867,2.3],[382,.808,2.3],[389,.908,2.3],[398,.892,2.3],[408,.958,2.3],[418,.842,2.3],[426,.925,2.3],[434,.883,2.3],[444,.825,2.3],[454,.908,2.3],[465,.942,2.3],[473,.85,2.3],[480,.958,2.3],[488,.892,2.3],[499,.858,2.3],[509,.875,2.3],[519,.833,2.3],[527,.817,2.3],[537,.85,2.3],[545,.8,2.3],[554,.828,2.3],[562,.817,2.3],[573,.917,2.3],[581,.892,2.3],[589,.958,2.3],[598,.925,2.3],[607,.883,2.3],[616,.958,2.3],[624,.928,2.3],[633,.85,2.3],[640,.958,2.3],[645,.908,2.3]];

// ---------- MaskDINO ----------
const maskDinoTicks = [1, 204, 408, 612, 816];
const maskDinoAtt = [[1,.837,1],[20,.842,1],[5,.987,1],[7,.95,0.9],[18,.975,1],[27,.962,1],[33,.958,1],[46,.928,1],[53,.972,1],[66,.975,1],[72,.867,1],[79,.978,1],[98,.983,1],[95,.833,1],[111,.972,1],[121,.86,1],[124,.963,1],
 [447,.903,1],[454,.958,1],[467,.975,1],[480,.987,1],[486,.925,1],[499,.978,1],[512,.987,1],[522,.925,1],[531,.975,1],[544,.987,1],[551,.945,1],[561,.958,1],[570,.978,1],[583,.95,1],[592,.972,1],[609,.925,1],[613,.988,1],[622,.975,1],[635,.983,1],[648,.975,1],[661,.958,1],[667,.983,1],[680,.972,1],[687,.953,1],[700,.975,1],[706,.958,1],[719,.978,1],
 [470,.86,0.2],[520,.86,0.2],[570,.86,0.2],[620,.86,0.2],[670,.86,0.2],[30,.87,0.2],[60,.87,0.2]];
const maskDinoNon = [[13,.975,1.8],[52,.985,1.8],[98,.985,1.8],[27,.958,2.5],[75,.97,2],
 [150,.892,4.8],[176,.825,5],[202,.875,5.2],[221,.808,5],[240,.892,4.8],[260,.825,5],[286,.858,4.8],[143,.8,4.6],[189,.775,5],[266,.783,4.8],[214,.942,4.5],[292,.925,4.5],[305,.808,4.2],[170,.9,5.5],[235,.83,6],[160,.86,4.5],[250,.86,4.5],[196,.82,4.2],
 [318,.93,2],[324,.96,1.8],[330,.88,2.2],[336,.94,2],[342,.86,2.2],[350,.92,2],[356,.84,2],[362,.95,1.8],[370,.89,2.2],[378,.83,2],[386,.94,2],[394,.87,2],[402,.96,1.8],[410,.9,2],[418,.85,2],[426,.93,1.8],[434,.88,1.8],[442,.95,1.6],
 [499,.985,1.8],[603,.985,2],[655,.975,1.8],[732,.925,1.5],[740,.915,1],
 [730,.975,0.6],[740,.975,0.6],[750,.975,0.6],[760,.975,0.6],[770,.975,0.6],[780,.975,0.6],[790,.975,0.6],[800,.975,0.6],[810,.975,0.6],[740,.94,0.3],[770,.94,0.3],[800,.94,0.3]];

// ---------- size legend ----------
const sizeLegendValues = [0.1, 1.4, 2.8, 4.1, 5.4, 6.8, 8.1, 9.4];
const sizeLegendLabels = ['0.1M', '1.4M', '2.8M', '4.1M', '5.4M', '6.8M', '8.1M', '9.4M'];

const panels = [
  {title: 'HQ-SAM-H', ticks: hqSamHTicks, color: '#8c564b', att: hqSamHAtt, non: hqSamHNon},
  {title: 'Mask2Former-L', ticks: m2fLTicks, color: '#800080', att: m2fLAtt, non: m2fLNon},
  {title: 'Semantic-SAM-T', ticks: semSamTTicks, color: '#bcbd22', att: semSamTAtt, non: semSamTNon},
  {title: 'SAM-H', ticks: samHTicks, color: '#7f7f7f', att: samHAtt, non: samHNon},
  {title: 'Mask2Former-B', ticks: m2fBTicks, color: '#b3561a', att: m2fBAtt, non: m2fBNon},
  {title: 'Mask2Former-T', ticks: m2fTTicks, color: '#8b0000', att: m2fTAtt, non: m2fTNon},
  {title: 'HQ-SAM-L', ticks: hqSamLTicks, color: '#1f77b4', att: hqSamLAtt, non: hqSamLNon},
  {title: 'HQ-SAM-B', ticks: hqSamBTicks, color: '#2ca02c', att: hqSamBAtt, non: hqSamBNon},
  {title: 'HQ-SAM-T', ticks: hqSamTTicks, color: '#ff7f0e', att: hqSamTAtt, non: hqSamTNon},
  {title: 'SAM-L', ticks: samLTicks, color: '#9467bd', att: samLAtt, non: samLNon},
  {title: 'SAM-B', ticks: samBTicks, color: '#e377c2', att: samBAtt, non: samBNon},
  {title: 'Semantic-SAM-L', ticks: semSamLTicks, color: '#17becf', att: semSamLAtt, non: semSamLNon},
  {title: 'MobileSAM', ticks: mobileSamTicks, color: '#d62728', att: mobileSamAtt, non: mobileSamNon},
  {title: 'Mask2Former-S', ticks: m2fSTicks, color: '#ff4500', att: m2fSAtt, non: m2fSNon},
  {title: 'MaskDINO', ticks: maskDinoTicks, color: '#00ff00', att: maskDinoAtt, non: maskDinoNon}
];

// Layout: frame left/right and first/last tick pixel per column; frame top/bottom per row
const W = 1021;
const colBox = [
  {l: 43.3, r: 346.7, t0: 57.7, t1: 332.3},
  {l: 386.5, r: 685.7, t0: 398.3, t1: 672.3},
  {l: 727, r: 1029, t0: 738.3, t1: 1011}
];
const rowBox = [[17.3, 166.7], [195, 344], [373.3, 522.7], [555.7, 705], [733.3, 882.7]];
const FONT = '"DejaVu Serif", "Liberation Serif", serif';
const PX_PER_M = 6.2;
const sizeOf = v => Math.max(1.2, v[2] * PX_PER_M);

const grids = [], xAxes = [], yAxes = [], series = [], titles = [], legends = [];

panels.forEach((p, i) => {
  const c = colBox[i % 3], r = rowBox[Math.floor(i / 3)];
  const n = p.ticks[p.ticks.length - 1];
  const ppu = (c.t1 - c.t0) / (n - 1);
  const xmin = 1 - (c.t0 - c.l) / ppu;
  const xmax = n + (c.r - c.t1) / ppu;
  const bottomRow = Math.floor(i / 3) === 4;

  grids.push({
    left: c.l, top: r[0], width: c.r - c.l, height: r[1] - r[0],
    show: true, borderColor: '#2b2b2b', borderWidth: 1.2, backgroundColor: '#fff',
    containLabel: false, outerBoundsMode: 'none'
  });
  xAxes.push({
    gridIndex: i, type: 'value', min: xmin, max: xmax,
    axisLine: {show: false},
    axisTick: {show: true, customValues: p.ticks, length: 3, lineStyle: {color: '#333', width: 0.8}},
    axisLabel: {customValues: p.ticks, fontFamily: FONT, fontSize: 5.5, color: '#222', margin: 2.5},
    splitLine: {show: true, lineStyle: {color: '#bdbdbd', width: 1}},
    name: bottomRow ? 'number of layers' : '', nameLocation: 'middle', nameGap: 13,
    nameTextStyle: {fontFamily: FONT, fontSize: 8.5, color: '#222'}
  });
  yAxes.push({
    gridIndex: i, type: 'value', min: 0.6, max: 1.35,
    axisLine: {show: false},
    axisTick: {show: true, customValues: yTickValues, length: 3, lineStyle: {color: '#333', width: 0.8}},
    axisLabel: {customValues: yTickValues, formatter: v => yTickLabels[Math.round((v - 0.6) / 0.125)],
      fontFamily: FONT, fontSize: 8.5, color: '#222', margin: 4},
    splitLine: {show: true, lineStyle: {color: '#bdbdbd', width: 1}},
    name: '1 - RMSE', nameLocation: 'middle', nameGap: 26,
    nameTextStyle: {fontFamily: FONT, fontSize: 7.5, color: '#222'}
  });
  series.push({
    type: 'scatter', name: 'Non-Attention Layer#' + i, xAxisIndex: i, yAxisIndex: i,
    data: p.non, symbolSize: sizeOf, clip: true, silent: true, z: 2,
    itemStyle: {color: 'rgba(0,0,0,0)', borderColor: '#000', borderWidth: 1, opacity: 0.38},
    emphasis: {disabled: true}
  });
  series.push({
    type: 'scatter', name: 'Attention Layer#' + i, xAxisIndex: i, yAxisIndex: i,
    data: p.att, symbolSize: sizeOf, clip: true, silent: true, z: 3,
    itemStyle: {color: 'rgba(0,0,0,0)', borderColor: p.color, borderWidth: 1.1, opacity: 0.95},
    emphasis: {disabled: true}
  });
  titles.push({
    text: p.title, left: (c.l + c.r) / 2, top: r[0] - 17, textAlign: 'center',
    textStyle: {fontFamily: FONT, fontSize: 11, fontWeight: 'normal', color: '#111'}
  });
  legends.push({
    orient: 'vertical', top: r[0] + 2.2, right: W - (c.r - 3.5), z: 10,
    itemWidth: 4.5, itemHeight: 4.5, itemGap: 3.4, padding: [2.5, 4, 2.5, 5],
    borderColor: '#cccccc', borderWidth: 0.8, borderRadius: 2, backgroundColor: 'rgba(255,255,255,0.85)',
    textStyle: {fontFamily: FONT, fontSize: 5.5, color: '#222'},
    formatter: name => name.split('#')[0], selectedMode: false,
    data: [
      {name: 'Attention Layer#' + i, icon: 'circle', itemStyle: {color: p.color, borderWidth: 0, opacity: 1}},
      {name: 'Non-Attention Layer#' + i, icon: 'circle', itemStyle: {color: '#000', borderWidth: 0, opacity: 1}}
    ]
  });
});

// Parameter-count key below the panels
const sizeLegendX = [332.7, 366.7, 400, 434, 484, 535, 602, 670];
const sizeKey = [];
sizeLegendValues.forEach((m, k) => {
  sizeKey.push({
    type: 'circle', shape: {cx: sizeLegendX[k], cy: 980, r: Math.max(0.5, m * PX_PER_M / 2)},
    style: {fill: 'none', stroke: '#555', lineWidth: 0.9}, silent: true
  });
  sizeKey.push({
    type: 'text', x: sizeLegendX[k], y: 936, rotation: Math.PI / 2,
    style: {text: sizeLegendLabels[k], font: '11px ' + FONT, fill: '#222', align: 'center', verticalAlign: 'middle'},
    silent: true
  });
});

const chart = echarts.init(document.getElementById('chart'), null, {renderer: 'canvas'});
chart.setOption({
  backgroundColor: '#fff',
  animation: false,
  title: titles,
  legend: legends,
  grid: grids,
  xAxis: xAxes,
  yAxis: yAxes,
  series: series,
  graphic: sizeKey
});
</script>
</body>
</html>
